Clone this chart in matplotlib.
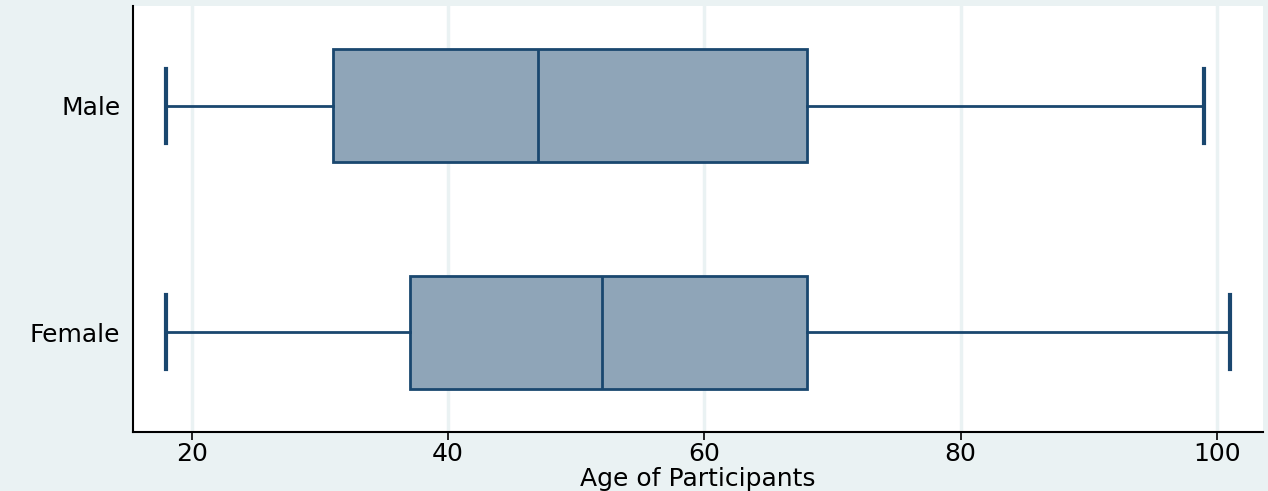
import matplotlib
matplotlib.use("Agg")
from matplotlib import pyplot as plt

plt.rcParams['font.family'] = ['DejaVu Sans']

groups = ["Female", "Male"]
whislo = [18, 18]
q1 = [37, 31]
med = [52, 47]
q3 = [68, 68]
whishi = [101, 99]

navy = "#1a476f"
bg = "#eaf2f3"

stats = []
for i, g in enumerate(groups):
    stats.append(dict(label=g, whislo=whislo[i], q1=q1[i], med=med[i],
                      q3=q3[i], whishi=whishi[i], fliers=[]))

fig = plt.figure(figsize=(12.68, 4.91), dpi=100, facecolor=bg)
ax = fig.add_axes([133/1268, 1-432/491, (1263-133)/1268, (432-6)/491])
ax.set_facecolor("white")

ax.bxp(stats, positions=[1, 2], vert=False, widths=0.5, patch_artist=True,
       showfliers=False,
       boxprops=dict(facecolor="#8fa5b8", edgecolor=navy, linewidth=2),
       medianprops=dict(color=navy, linewidth=2),
       whiskerprops=dict(color=navy, linewidth=2),
       capprops=dict(color=navy, linewidth=3),
       capwidths=0.33)

ax.set_xlim(15.4, 103.6)
ax.set_ylim(0.558, 2.442)
ax.set_xticks([20, 40, 60, 80, 100])
ax.set_yticks([1, 2])
ax.set_yticklabels(groups)
ax.grid(axis="x", color=bg, linewidth=2.5)
ax.set_axisbelow(True)
ax.spines["top"].set_visible(False)
ax.spines["right"].set_visible(False)
ax.spines["left"].set_linewidth(1.5)
ax.spines["bottom"].set_linewidth(1.5)
ax.tick_params(axis="x", labelsize=18, length=6, width=1.2, pad=1)
ax.tick_params(axis="y", labelsize=18, length=0, pad=9)
ax.set_xlabel("Age of Participants", fontsize=18)
ax.xaxis.set_label_coords(0.5, -0.11)
ax.xaxis.label.set_va("center")

plt.savefig("out.png", dpi=100, facecolor=bg)
